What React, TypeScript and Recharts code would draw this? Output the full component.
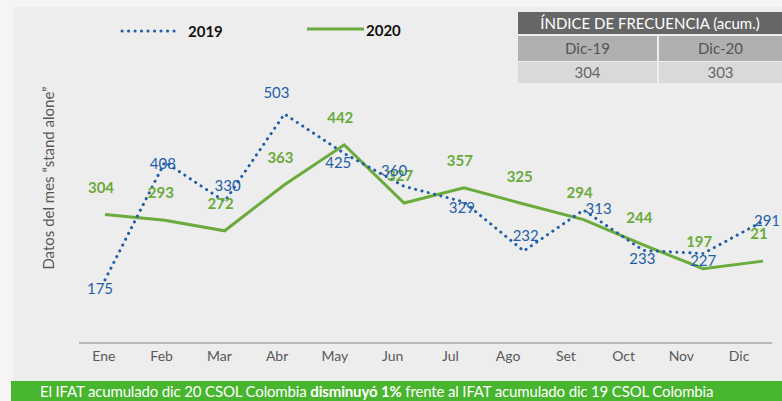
import React from "react";
import { LineChart, Line, XAxis, YAxis } from "recharts";

const months = ["Ene", "Feb", "Mar", "Abr", "May", "Jun", "Jul", "Ago", "Set", "Oct", "Nov", "Dic"];
const values2019 = [175, 408, 330, 503, 425, 360, 329, 232, 313, 233, 227, 291];
const values2020 = [304, 293, 272, 363, 442, 327, 357, 325, 294, 244, 197, 212];
const labels2020 = ["304", "293", "272", "363", "442", "327", "357", "325", "294", "244", "197", "21"];
const tableHeader = "ÍNDICE DE FRECUENCIA (acum.)";
const tableCols = ["Dic-19", "Dic-20"];
const tableVals = ["304", "303"];

const data = months.map((m, i) => ({ m, y2019: values2019[i], y2020: values2020[i] }));

const BLUE = "#1f5fa8";
const GREEN = "#6aab3c";
const FONT = "Lato, 'Open Sans', sans-serif";

// label offsets (style) for 2019 labels
const blueOff: [number, number][] = [
  [-5, 8], [-2, 1], [3, -16], [-8, -22], [-6, 9], [-10, -16],
  [-2, 5], [2, -16], [15, -2], [-1, 7], [0, 6], [4, -1],
];

const BlueLabel = (p: any) => {
  const [dx, dy] = blueOff[p.index] || [0, 0];
  return (
    <text x={p.x + dx} y={p.y + dy} textAnchor="middle" dominantBaseline="central"
      fill={BLUE} fontSize={15} fontFamily={FONT}>{p.value}</text>
  );
};

const GreenLabel = (p: any) => (
  <text x={p.x - 4} y={p.y - 28} textAnchor="middle" dominantBaseline="central"
    fill={GREEN} fontSize={15} fontWeight={700} fontFamily={FONT}>{labels2020[p.index]}</text>
);

export default function App() {
  return (
    <div style={{ position: "absolute", left: 0, top: 0, width: 782, height: 401, background: "#f5f5f5", overflow: "hidden", fontFamily: FONT }}>
      <div style={{ position: "absolute", left: 13, top: 7, width: 769, height: 374, background: "#ededed" }} />
      <div style={{ position: "absolute", left: 11, top: 381, width: 771, height: 20, background: "#47b52d" }} />
      <div style={{ position: "absolute", left: 40, top: 381, height: 20, lineHeight: "20px", color: "#fff", fontSize: 15, whiteSpace: "nowrap", letterSpacing: -0.15 }}>
        El IFAT acumulado dic 20 CSOL Colombia <b>disminuyó 1%</b> frente al IFAT acumulado dic 19 CSOL Colombia
      </div>

      {/* legend */}
      <svg style={{ position: "absolute", left: 0, top: 0 }} width={420} height={50}>
        <line x1={122} y1={31} x2={180} y2={31} stroke={BLUE} strokeWidth={3} strokeDasharray="0.1 6.4" strokeLinecap="round" />
        <text x={188} y={31} dominantBaseline="central" fontSize={15} fontWeight={700} fontFamily={FONT} fill="#111">2019</text>
        <line x1={307} y1={29} x2={364} y2={29} stroke={GREEN} strokeWidth={3} />
        <text x={366} y={30} dominantBaseline="central" fontSize={15} fontWeight={700} fontFamily={FONT} fill="#111">2020</text>
      </svg>

      {/* y label */}
      <div style={{ position: "absolute", left: 48, top: 178, transform: "translate(-50%, -50%) rotate(-90deg)", whiteSpace: "nowrap", fontSize: 15, color: "#595959" }}>
        Datos del mes “stand alone”
      </div>

      {/* table */}
      <div style={{ position: "absolute", left: 518, top: 12, width: 264, height: 22, background: "#666666", color: "#fff", fontSize: 15, lineHeight: "22px", textAlign: "center" }}>{tableHeader}</div>
      <div style={{ position: "absolute", left: 518, top: 36, width: 139, height: 25, background: "#b0b0b0", color: "#555", fontSize: 15, lineHeight: "25px", textAlign: "center" }}>{tableCols[0]}</div>
      <div style={{ position: "absolute", left: 659, top: 36, width: 123, height: 25, background: "#b0b0b0", color: "#555", fontSize: 15, lineHeight: "25px", textAlign: "center" }}>{tableCols[1]}</div>
      <div style={{ position: "absolute", left: 518, top: 62, width: 139, height: 21, background: "#d9d9d9", color: "#666", fontSize: 15, lineHeight: "21px", textAlign: "center" }}>{tableVals[0]}</div>
      <div style={{ position: "absolute", left: 659, top: 62, width: 123, height: 21, background: "#d9d9d9", color: "#666", fontSize: 15, lineHeight: "21px", textAlign: "center" }}>{tableVals[1]}</div>

      <div style={{ position: "absolute", left: 0, top: 0 }}>
        <LineChart width={782} height={401} data={data} margin={{ top: 65, right: 10, bottom: 28, left: 79 }}>
          <XAxis xAxisId="band" dataKey="m" scale="band" height={30} axisLine={{ stroke: "#a6a6a6", strokeWidth: 1.5 }} tickLine={false}
            tick={{ fill: "#595959", fontSize: 14, fontFamily: FONT, dx: -4 }} interval={0} />
          <XAxis xAxisId="pt" dataKey="m" scale="point" hide padding={{ left: 26, right: 9 }} />
          <YAxis hide domain={[50, 600]} />
          <Line xAxisId="pt" dataKey="y2020" stroke={GREEN} strokeWidth={3} dot={false} isAnimationActive={false} label={GreenLabel} />
          <Line xAxisId="pt" dataKey="y2019" stroke={BLUE} strokeWidth={3} strokeDasharray="0.1 6.4" strokeLinecap="round" dot={false} isAnimationActive={false} label={BlueLabel} />
        </LineChart>
      </div>
    </div>
  );
}
